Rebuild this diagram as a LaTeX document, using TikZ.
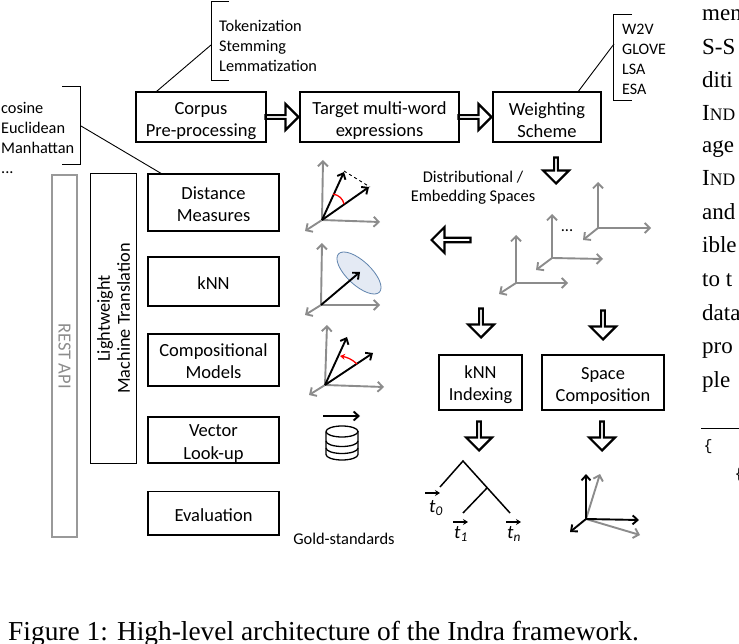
\documentclass[tikz,border=0pt]{standalone}
\usepackage{fontspec}
\setmainfont{Carlito}
\newfontfamily\capfont{Liberation Serif}
\newfontfamily\codefont{Liberation Mono}
\usepackage{tikz}
\usetikzlibrary{positioning}
\usetikzlibrary{arrows.meta}
\usetikzlibrary{shapes.geometric}
\usetikzlibrary{shapes.arrows}
\definecolor{ballfill}{HTML}{E4EAF4}
\definecolor{balldraw}{HTML}{5F83AD}
\newcommand{\fakesc}[1]{I{\fontsize{17.5}{17.5}\selectfont #1}}

\begin{document}
\begin{tikzpicture}[x=1pt, y=-1pt,
    blockbox/.style={rectangle, draw=black, line width=1.8pt, align=center, inner sep=0pt, outer sep=0pt, font=\fontsize{18.5}{22}\selectfont},
    textbox/.style={blockbox, text height=42pt},
    sidebox/.style={blockbox, minimum width=131pt},
    twoline/.style={text height=38pt},
    oneline/.style={text height=16pt},
    smallbox/.style={blockbox, text height=40pt, minimum height=55pt, font=\fontsize{18.4}{22}\selectfont},
    listtext/.style={align=left, anchor=west, inner sep=0pt, font=\fontsize{16.3}{20}\selectfont},
    graytext/.style={inner sep=0pt, align=center, font=\fontsize{16.4}{19}\selectfont},
    hollowright/.style={single arrow, draw=black, line width=2.2pt, anchor=tip, inner sep=0pt, minimum height=33pt, minimum width=26pt, single arrow head extend=6.5pt},
    hollowdown/.style={hollowright, rotate=-90, minimum height=29pt, minimum width=26pt},
    axisline/.style={->, >={Straight Barb[length=5pt,width=10pt]}, draw=gray!90, line width=1.9pt},
    vecline/.style={->, >={Straight Barb[length=5pt,width=9pt]}, draw=black, line width=1.9pt},
    treeline/.style={draw=black, line width=1.5pt},
    papertext/.style={anchor=base west, inner sep=0pt, font=\capfont\fontsize{23}{23}\selectfont},
]
            \useasboundingbox (0,0) rectangle (739,644);

            %Top row
            \node[textbox, minimum width=130pt, minimum height=50pt](box_corpus) at (201,117){Corpus\\Pre-processing};
            \node[textbox, minimum width=159pt, minimum height=50pt](box_target)[right=34pt of box_corpus]{Target multi-word\\expressions};
            \node[textbox, minimum width=108pt, minimum height=50pt](box_weight)[right=34pt of box_target]{Weighting\\Scheme};

            %Left column
            \node[sidebox, twoline, minimum height=57pt](box_dist) at (213.5,202.5){Distance\\Measures};
            \node[sidebox, oneline, minimum height=49pt](box_knn)[below=26pt of box_dist]{kNN};
            \node[sidebox, twoline, minimum height=52pt](box_comp)[below=28pt of box_knn]{Compositional\\Models};
            \node[sidebox, text height=42pt, minimum height=46pt, font=\fontsize{18.5}{23}\selectfont](box_lookup)[below=31pt of box_comp]{Vector\\Look-up};
            \node[sidebox, oneline, minimum height=43.5pt](box_eval)[below=28.5pt of box_lookup]{Evaluation};
            \node[blockbox, rotate=90, minimum width=290pt, minimum height=46pt, font=\fontsize{18.3}{20}\selectfont](box_light) at (113.5,318.5){Lightweight\\Machine Translation};
            \node[blockbox, draw=gray!80, text=gray!90, rotate=-90, line width=2.4pt, minimum width=362pt, minimum height=25pt](box_rest) at (64.5,356){REST API};

            %Right boxes
            \node[smallbox, minimum width=83pt](box_index) at (480.5,382.5){kNN\\Indexing};
            \node[smallbox, minimum width=122pt](box_space)[right=20pt of box_index]{Space\\Composition};

            %Lists
            \node[listtext](list_prep) at (219,46){Tokenization\\Stemming\\Lemmatization};
            \node[listtext](list_dist) at (1,137.5){cosine\\Euclidean\\Manhattan\\...};
            \node[listtext, font=\fontsize{16}{20}\selectfont](list_embed) at (622,59){W2V\\GLOVE\\LSA\\ESA};
            \draw[line width=0.9pt] (229,1.5) -| (211,80) -- (229,80);
            \draw[line width=0.9pt] (62,86) -| (80.5,164) -- (62,164);
            \draw[line width=0.9pt] (632,14) -| (613.7,100) -- (632,100);
            \coordinate (tie_prep) at (211,45);
            \coordinate (tie_dist) at (81,126);
            \coordinate (tie_embed) at (614,44);

            %Lines
            \draw[line width=0.9pt] (box_corpus.151.5) -- (tie_prep);
            \draw[line width=0.9pt] (box_dist.151.7) -- (tie_dist);
            \draw[line width=0.9pt] (box_weight.39.8) -- (tie_embed);

            %Hollow arrows
            \node[hollowright](flow_corpus) at (box_target.west){};
            \node[hollowright](flow_target) at (box_weight.west){};
            \node[hollowdown, minimum height=26pt](flow_weight) at (556,185){};
            \node[hollowright, rotate=180, minimum height=39pt, minimum width=26pt, single arrow head extend=5.5pt](flow_back) at (430,240){};
            \node[hollowdown](flow_index) at (481,339){};
            \node[hollowdown](flow_space) at (603,341){};
            \node[hollowdown](flow_tree) at (479,452){};
            \node[hollowdown](flow_comp) at (602,452){};

            %Labels
            \node[graytext](label_spaces) at (473,187.5){Distributional /\\Embedding Spaces};
            \node[graytext](label_gold) at (344,539){Gold-standards};
            \node[graytext](label_dots) at (567,231){...};

            %Axes
            \foreach \ox/\oy/\ux/\uy/\rx/\ry/\lx/\ly in {322/220/323/160/380/222/305/231, 321/305/322/243/380/305/305/315, 325/385/327/325/384/387/309/395, 516/283/516/235/568/283/499/294, 552/258/552/214/603/259/536/270, 598/228/598/182/651/228/583/240}{
                \draw[axisline] (\ox,\oy) -- (\ux,\uy);
                \draw[axisline] (\ox,\oy) -- (\rx,\ry);
                \draw[axisline] (\ox,\oy) -- (\lx,\ly);
            }

            %Distance sketch
            \draw[vecline] (322,220) -- (344,172);
            \draw[vecline] (322,220) -- (369,187);
            \draw[dashed, line width=0.9pt] (344,171) -- (370,187);
            \draw[red, line width=1.3pt] (333,194) .. controls (339,195) and (343,199) .. (344,204);

            %kNN sketch
            \node[ellipse, draw=balldraw, fill=ballfill, line width=0.8pt, rotate=-43, minimum width=56pt, minimum height=24pt, inner sep=0pt](knn_ball) at (359,273){};
            \draw[vecline] (321,305) -- (360,272);

            %Compositional sketch
            \draw[vecline] (325,385) -- (347,337);
            \draw[vecline] (325,385) -- (373,353);
            \draw[red, line width=1.3pt, ->, >={Stealth[length=5pt,width=6pt]}] (357,364) .. controls (352,359) and (346,357) .. (340,356);

            %Database
            \draw[vecline] (323,416) -- (360,416);
            \draw[line width=1.3pt] (326,431.5) arc[start angle=180, end angle=-180, x radius=16, y radius=5.5];
            \draw[line width=1.3pt] (326,431.5) -- (326,454.5) arc[start angle=180, end angle=0, x radius=16, y radius=5.5] -- (358,431.5);
            \draw[line width=1.3pt] (326,441) arc[start angle=180, end angle=0, x radius=16, y radius=5.5];
            \draw[line width=1.3pt] (326,448) arc[start angle=180, end angle=0, x radius=16, y radius=5.5];

            %Tree
            \draw[treeline] (440,487) -- (463,461) -- (510,513);
            \draw[treeline] (487,488) -- (463,513);
            \node[inner sep=0pt, font=\fontsize{19}{19}\selectfont](term_0) at (436,508){\textit{t}\textsubscript{\textit{0}}};
            \node[inner sep=0pt, font=\fontsize{19}{19}\selectfont](term_1) at (461,534){\textit{t}\textsubscript{\textit{1}}};
            \node[inner sep=0pt, font=\fontsize{19}{19}\selectfont](term_n) at (514,534){\textit{t}\textsubscript{\textit{n}}};
            \draw[->, >={Stealth[length=5pt,width=6pt]}, line width=1.1pt] (425,493) -- (440,493);
            \draw[->, >={Stealth[length=5pt,width=6pt]}, line width=1.1pt] (453,522) -- (468,522);
            \draw[->, >={Stealth[length=5pt,width=6pt]}, line width=1.1pt] (506,522) -- (521,522);

            %Composition sketch
            \draw[axisline] (586,519) -- (600,474);
            \draw[axisline] (586,519) -- (640,535);
            \draw[vecline] (586,519) -- (586,474);
            \draw[vecline] (586,519) -- (639,520);
            \draw[vecline] (586,519) -- (570,532);

            %Page text
            \node[anchor=base west, inner sep=0pt, font=\capfont\fontsize{27.4}{27}\selectfont](caption) at (8,640){Figure 1: High-level architecture of the Indra framework.};
            \foreach \rowy/\rowtext in {21/men, 55/S-S, 88/diti, 121/\fakesc{ND}, 153/age, 186/\fakesc{ND}, 220/and, 253/ible, 287/to t, 320/data, 353/pro, 387/ple}{
                \node[papertext] at (702,\rowy){\rowtext};
            }
            \draw[line width=0.7pt] (701,428) -- (739,428);
            \node[inner sep=0pt, font=\codefont\fontsize{15}{15}\selectfont](brace_a) at (708,447){\{};
            \node[inner sep=0pt, font=\codefont\fontsize{15}{15}\selectfont](brace_b) at (739,475){\{};
\end{tikzpicture}
\end{document}
